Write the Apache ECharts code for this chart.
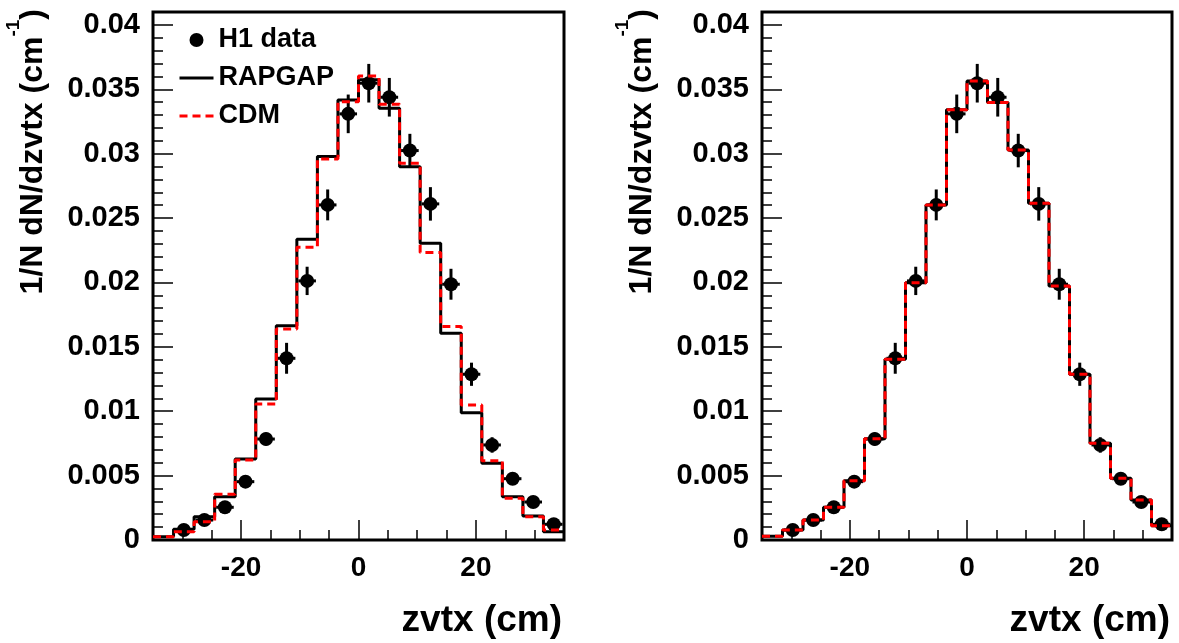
<!DOCTYPE html>
<html>
<head>
<meta charset="utf-8">
<script src="https://cdn.jsdelivr.net/npm/echarts@6/dist/echarts.min.js"></script>
<style>
html,body{margin:0;padding:0;background:#fff;}
#chart{width:1179px;height:643px;}
</style>
</head>
<body>
<div id="chart"></div>
<script>
// ---- data ----
const binEdges = [-35, -31.5, -28, -24.5, -21, -17.5, -14, -10.5, -7, -3.5, 0, 3.5, 7, 10.5, 14, 17.5, 21, 24.5, 28, 31.5, 35];
const dataX = [-29.75, -26.25, -22.75, -19.25, -15.75, -12.25, -8.75, -5.25, -1.75, 1.75, 5.25, 8.75, 12.25, 15.75, 19.25, 22.75, 26.25, 29.75, 33.25];
const dataY = [0.00078, 0.00155, 0.00254, 0.00453, 0.00784, 0.01411, 0.02012, 0.02602, 0.03309, 0.03547, 0.03438, 0.03024, 0.0261, 0.01986, 0.01287, 0.00738, 0.00476, 0.00295, 0.00122];
const dataYErr = [0.0001, 0.0002, 0.0003, 0.0004, 0.0005, 0.0012, 0.0011, 0.0012, 0.0015, 0.0015, 0.0015, 0.0013, 0.0013, 0.0012, 0.0009, 0.0006, 0.0004, 0.0003, 0.0002];
const dataXErr = [1.5, 1.5, 1.5, 1.5, 1.5, 1.5, 1.5, 1.5, 1.5, 1.5, 1.5, 1.5, 1.5, 1.5, 1.5, 1.5, 1.5, 1.5, 1.5];
const rapgapLeft = [0.00025, 0.00083, 0.00181, 0.00336, 0.00629, 0.01095, 0.01664, 0.02335, 0.02977, 0.03417, 0.03573, 0.03353, 0.02899, 0.02304, 0.01605, 0.00989, 0.00596, 0.00336, 0.00186, 0.00065];
const cdmLeft = [0.00025, 0.00065, 0.00142, 0.00355, 0.00621, 0.01056, 0.01639, 0.02273, 0.02959, 0.03404, 0.03604, 0.03384, 0.02926, 0.02232, 0.01657, 0.01049, 0.00616, 0.00324, 0.00181, 0.00078];
const rapgapRight = [0.0003, 0.00078, 0.00155, 0.00254, 0.00461, 0.00787, 0.01403, 0.01998, 0.02602, 0.0334, 0.03565, 0.03397, 0.03029, 0.02615, 0.01973, 0.01287, 0.00751, 0.00479, 0.00311, 0.00111];
const cdmRight = [0.0003, 0.00078, 0.00155, 0.00254, 0.00461, 0.00787, 0.01403, 0.01998, 0.02602, 0.0334, 0.03565, 0.03397, 0.03029, 0.02615, 0.01973, 0.01287, 0.00751, 0.00479, 0.00311, 0.00111];
const xTickLabels = [-20, 0, 20];
const xMinorTicks = [-30, -25, -15, -10, -5, 5, 10, 15, 25, 30];
const yTickLabels = [0, 0.005, 0.01, 0.015, 0.02, 0.025, 0.03, 0.035, 0.04];
const legendNames = ['H1 data', 'RAPGAP', 'CDM'];
const xTitle = 'zvtx (cm)';

// ---- style ----
const FONT = "'Liberation Sans', Arial, Helvetica, sans-serif";
const yMinorTicks = [];
for (let i = 1; i < 41; i++) { if (i % 5 !== 0) yMinorTicks.push(i / 1000); }

function histData(vals) {
  return binEdges.map((e, i) => [e, vals[Math.min(i, vals.length - 1)]]);
}
const points = dataX.map((x, i) => [x, dataY[i], dataYErr[i], dataXErr[i]]);

const grids = [
  { left: 153, top: 12, width: 411, height: 528 },
  { left: 762, top: 12, width: 410, height: 528 }
];

const xAxes = [], yAxes = [], series = [];
grids.forEach((g, gi) => {
  xAxes.push({
    gridIndex: gi, type: 'value', min: -35, max: 35, position: 'bottom',
    axisLine: { show: false, onZero: false }, splitLine: { show: false },
    axisTick: { show: true, inside: true, length: 20, customValues: xTickLabels, lineStyle: { color: '#000', width: 1.5 } },
    axisLabel: { customValues: xTickLabels, margin: 14, fontSize: 28, fontWeight: 'bold', fontFamily: FONT, color: '#000' }
  });
  xAxes.push({
    gridIndex: gi, type: 'value', min: -35, max: 35, position: 'bottom',
    axisLine: { show: false, onZero: false }, splitLine: { show: false }, axisLabel: { show: false },
    axisTick: { show: true, inside: true, length: 10, customValues: xMinorTicks, lineStyle: { color: '#000', width: 1.5 } }
  });
  yAxes.push({
    gridIndex: gi, type: 'value', min: 0, max: 0.041, position: 'left',
    axisLine: { show: false, onZero: false }, splitLine: { show: false },
    axisTick: { show: true, inside: true, length: 20, customValues: yTickLabels, lineStyle: { color: '#000', width: 1.5 } },
    axisLabel: { customValues: yTickLabels, margin: 13, fontSize: 29, fontWeight: 'bold', fontFamily: FONT, color: '#000',
      formatter: v => String(parseFloat(Number(v).toFixed(4))) }
  });
  yAxes.push({
    gridIndex: gi, type: 'value', min: 0, max: 0.041, position: 'left',
    axisLine: { show: false, onZero: false }, splitLine: { show: false }, axisLabel: { show: false },
    axisTick: { show: true, inside: true, length: 10, customValues: yMinorTicks, lineStyle: { color: '#000', width: 1.5 } }
  });
  const xi = gi * 2, yi = gi * 2;
  series.push({
    type: 'custom', xAxisIndex: xi, yAxisIndex: yi, data: points, encode: { x: 0, y: 1 }, silent: true, z: 2,
    renderItem: (params, api) => {
      const x = api.value(0), y = api.value(1), ey = api.value(2), ex = api.value(3);
      const t = api.coord([x, y + ey]), b = api.coord([x, y - ey]);
      const l = api.coord([x - ex, y]), r = api.coord([x + ex, y]);
      return { type: 'group', children: [
        { type: 'line', shape: { x1: t[0], y1: t[1], x2: b[0], y2: b[1] }, style: { stroke: '#000', lineWidth: 3 } },
        { type: 'line', shape: { x1: l[0], y1: l[1], x2: r[0], y2: r[1] }, style: { stroke: '#000', lineWidth: 3 } }
      ] };
    }
  });
  series.push({
    name: legendNames[0], type: 'scatter', xAxisIndex: xi, yAxisIndex: yi, z: 3,
    data: points.map(p => [p[0], p[1]]), symbol: 'circle', symbolSize: 14,
    itemStyle: { color: '#000', opacity: 1 }
  });
  series.push({
    name: legendNames[1], type: 'line', step: 'end', xAxisIndex: xi, yAxisIndex: yi, z: 4,
    data: histData(gi === 0 ? rapgapLeft : rapgapRight), symbol: 'none', showSymbol: false,
    lineStyle: { color: '#000', width: 3 }, itemStyle: { color: '#000' }
  });
  series.push({
    name: legendNames[2], type: 'line', step: 'end', xAxisIndex: xi, yAxisIndex: yi, z: 5,
    data: histData(gi === 0 ? cdmLeft : cdmRight), symbol: 'none', showSymbol: false,
    lineStyle: { color: '#ff0000', width: 3, type: [8, 5] }, itemStyle: { color: '#ff0000' }
  });
});

function yTitle(x) {
  return {
    type: 'text', x: x, y: 9, rotation: Math.PI / 2, silent: true,
    style: {
      text: '{a|1/N dN/dzvtx (cm}{s|-1}{a|)}',
      align: 'right', verticalAlign: 'middle', fill: '#000',
      rich: {
        a: { fontSize: 32, fontWeight: 'bold', fontFamily: FONT, lineHeight: 58, fill: '#000' },
        s: { fontSize: 19, fontWeight: 'bold', fontFamily: FONT, lineHeight: 19, verticalAlign: 'top', fill: '#000' }
      }
    }
  };
}
function xTitleEl(x) {
  return {
    type: 'text', x: x, y: 621, silent: true,
    style: { text: xTitle, align: 'right', verticalAlign: 'middle', fontSize: 37, fontWeight: 'bold', fontFamily: FONT, fill: '#000' }
  };
}

const hidden = { color: 'rgba(0,0,0,0)', borderWidth: 0, opacity: 0 };
const chart = echarts.init(document.getElementById('chart'), null, { renderer: 'canvas' });
chart.setOption({
  animation: false,
  backgroundColor: '#fff',
  grid: grids.map(g => Object.assign({ show: true, borderColor: '#000', borderWidth: 3, backgroundColor: 'transparent' }, g)),
  xAxis: xAxes,
  yAxis: yAxes,
  legend: {
    orient: 'vertical', left: 178, top: 25, padding: 0, itemGap: 8,
    itemWidth: 34, itemHeight: 14, selectedMode: false,
    data: [
      { name: legendNames[0], icon: 'circle', itemStyle: { color: '#000', opacity: 1 } },
      { name: legendNames[1], itemStyle: hidden, lineStyle: { width: 3, color: '#000' } },
      { name: legendNames[2], itemStyle: hidden, lineStyle: { width: 3, color: '#ff0000', type: [8, 5] } }
    ],
    textStyle: { fontSize: 27, fontWeight: 'bold', fontFamily: FONT, color: '#000', lineHeight: 30 }
  },
  graphic: [yTitle(33), yTitle(642), xTitleEl(562), xTitleEl(1170)],
  series: series
});
</script>
</body>
</html>
